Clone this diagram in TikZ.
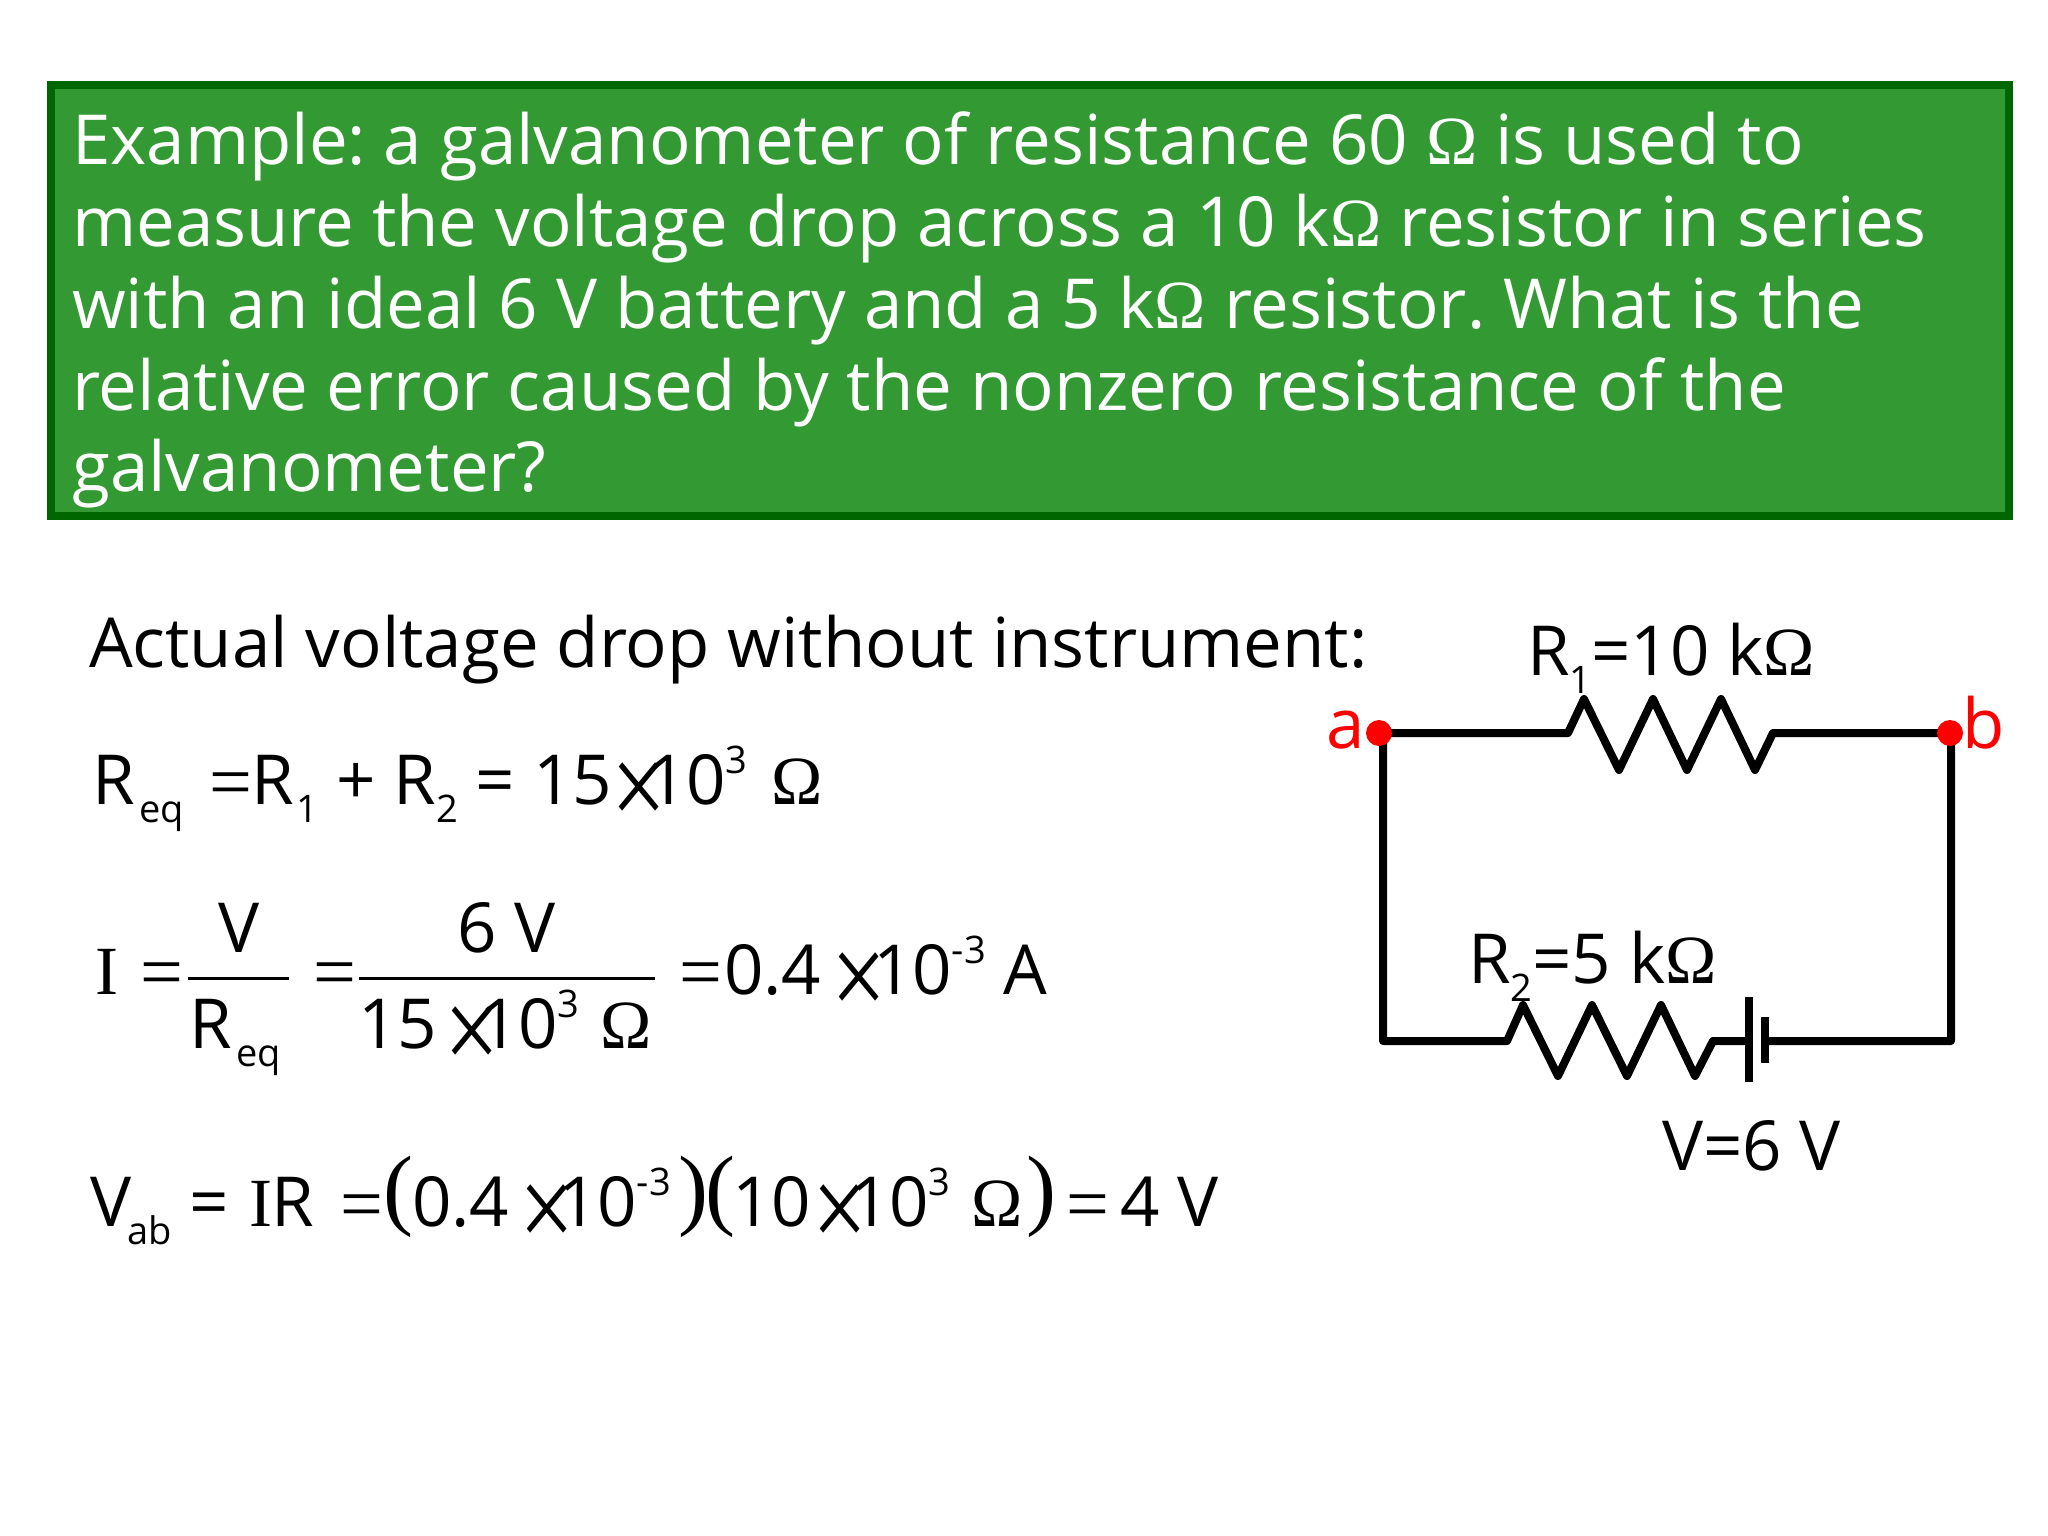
\documentclass[tikz,border=0pt]{standalone}
\usepackage{fontspec}
\newfontfamily\opensans{Open Sans}
\newfontfamily\libserif{Liberation Serif}
\frenchspacing
\newcommand{\bodyfont}{\opensans\fontsize{69}{69}\selectfont}
\newcommand{\sbs}[1]{\raisebox{-18pt}{\fontsize{38}{38}\selectfont #1}}
\newcommand{\sps}[1]{\raisebox{31pt}{\fontsize{38}{38}\selectfont #1}}
\newcommand{\om}{{\libserif Ω}}
\newcommand{\tms}{\raisebox{-22pt}{\scalebox{1.15}[1.4]{×}}}
\definecolor{panelfill}{HTML}{339933}
\definecolor{paneledge}{HTML}{006600}
\tikzset{
	eqn/.style={anchor=base west,inner sep=0pt,outer sep=0pt,font=\bodyfont},
	eqsign/.style={eqn,font=\libserif\fontsize{76}{76}\selectfont},
	cross/.style={eqn,font=\libserif\fontsize{85}{85}\selectfont},
	bigpar/.style={eqn,font=\libserif\fontsize{90}{90}\selectfont},
	wire/.style={line width=8pt,line join=round,line cap=round},
	plate/.style={line width=8pt},
	junction/.style={circle,fill=red,inner sep=0pt,minimum size=26pt},
	endlabel/.style={eqn,text=red},
	fracline/.style={line width=3pt}
}
\begin{document}
\begin{tikzpicture}[x=1pt,y=-1pt]
	\useasboundingbox (0,0) rectangle (2048,1536);
	\node[draw=paneledge,fill=panelfill,line width=8pt,minimum width=1958pt,minimum height=431pt,inner sep=0pt] (panel) at (1030,300.5) {};
	\node[anchor=north west,inner sep=0pt,align=left,text=white,font=\opensans\fontsize{69}{81.7}\selectfont] (question) at (72,112) {Example: a galvanometer of resistance 60 \om{} is used to\\
		measure the voltage drop across a 10 k\om{} resistor in series\\
		with an ideal 6 V battery and a 5 k\om{} resistor. What is the\\
		relative error caused by the nonzero resistance of the\\
		galvanometer?};

	\node[eqn] (actual) at (89,667) {Actual voltage drop without instrument:};

	% first line
	\node[eqn] (reqa) at (92,804) {R\kern5pt\sbs{eq}};
	\node[eqsign] (reqb) at (209,807) {=};
	\node[eqn] (reqc) at (251,804) {R\kern3pt\sbs{1} + R\sbs{2} = 15};
	\node[cross] (reqd) at (611,804) {\tms};
	\node[eqn] (reqe) at (647,804) {10\sps{3}};
	\node[eqn] (reqf) at (771,804) {\om};

	% second line
	\node[eqn] (cura) at (95,994) {{\libserif I}};
	\node[eqsign] (curb) at (140,997) {=};
	\coordinate (fraca) at (188,978);
	\coordinate (fracb) at (289,978);
	\draw[fracline] (fraca) -- (fracb);
	\node[eqn] (curc) at (218,952) {V};
	\node[eqn] (curd) at (189,1048) {R\kern5pt\sbs{eq}};
	\node[eqsign] (cure) at (313,997) {=};
	\coordinate (fracc) at (359,978);
	\coordinate (fracd) at (655,978);
	\draw[fracline] (fracc) -- (fracd);
	\node[eqn] (curf) at (457,952) {6 V};
	\node[eqn] (curg) at (358,1048) {15};
	\node[cross] (curh) at (444,1048) {\tms};
	\node[eqn] (curi) at (479,1048) {10\sps{3}};
	\node[eqn] (curj) at (600,1048) {\om};
	\node[eqsign] (curk) at (679,997) {=};
	\node[eqn] (curl) at (724,994) {0.4};
	\node[cross] (curm) at (831,994) {\tms};
	\node[eqn] (curn) at (873,994) {10\sps{-3}};
	\node[eqn] (curo) at (1003,994) {A};

	% third line
	\node[eqn] (vaba) at (90,1226) {V\kern-4pt\sbs{ab} =};
	\node[eqn] (vabb) at (249,1226) {{\libserif I}R};
	\node[eqsign] (vabc) at (340,1229) {=};
	\node[bigpar] (vabd) at (383,1218) {(};
	\node[eqn] (vabe) at (412,1226) {0.4};
	\node[cross] (vabf) at (519,1226) {\tms};
	\node[eqn] (vabg) at (558,1226) {10\sps{-3}};
	\node[bigpar] (vabh) at (678,1218) {)};
	\node[bigpar] (vabi) at (705,1218) {(};
	\node[eqn] (vabj) at (732,1226) {10};
	\node[cross] (vabk) at (812,1226) {\tms};
	\node[eqn] (vabl) at (850,1226) {10\sps{3}};
	\node[eqn] (vabm) at (971,1226) {\om};
	\node[bigpar] (vabn) at (1026,1218) {)};
	\node[eqsign] (vabo) at (1066,1229) {=};
	\node[eqn] (vabp) at (1120,1226) {4 V};

	% circuit
	\coordinate (a) at (1383,733);
	\coordinate (b) at (1951,733);
	\coordinate (c) at (1951,1041);
	\coordinate (d) at (1383,1041);
	\coordinate (ra) at (1568,733);
	\coordinate (rb) at (1773,733);
	\coordinate (rc) at (1507,1041);
	\coordinate (rd) at (1713,1041);
	\coordinate (ve) at (1749,1041);
	\coordinate (vf) at (1765,1041);
	\draw[wire] (a) -- (ra) -- ++(16,-34) -- ++(35,71) -- ++(34,-71) -- ++(34,71) -- ++(34,-71) -- ++(34,71) -- (rb) -- (b) -- (c) -- (vf);
	\draw[wire] (ve) -- (rd) -- ++(-18,35) -- ++(-34,-71) -- ++(-34,71) -- ++(-35,-71) -- ++(-34,71) -- ++(-35,-71) -- (rc) -- (d) -- (a);
	\draw[plate] (1749,997) -- (1749,1082);
	\draw[plate] (1765,1017) -- (1765,1063);
	\node[junction] (pa) at (1379,733) {};
	\node[junction] (pb) at (1950,733) {};
	\node[endlabel] (la) at (1326,748) {a};
	\node[endlabel] (lb) at (1962,748) {b};
	\node[eqn] (rone) at (1527,675) {R\sbs{1}=10 k\om};
	\node[eqn] (rtwo) at (1468,983) {R\sbs{2}=5 k\om};
	\node[eqn] (volt) at (1662,1170) {V=6 V};
\end{tikzpicture}
\end{document}
